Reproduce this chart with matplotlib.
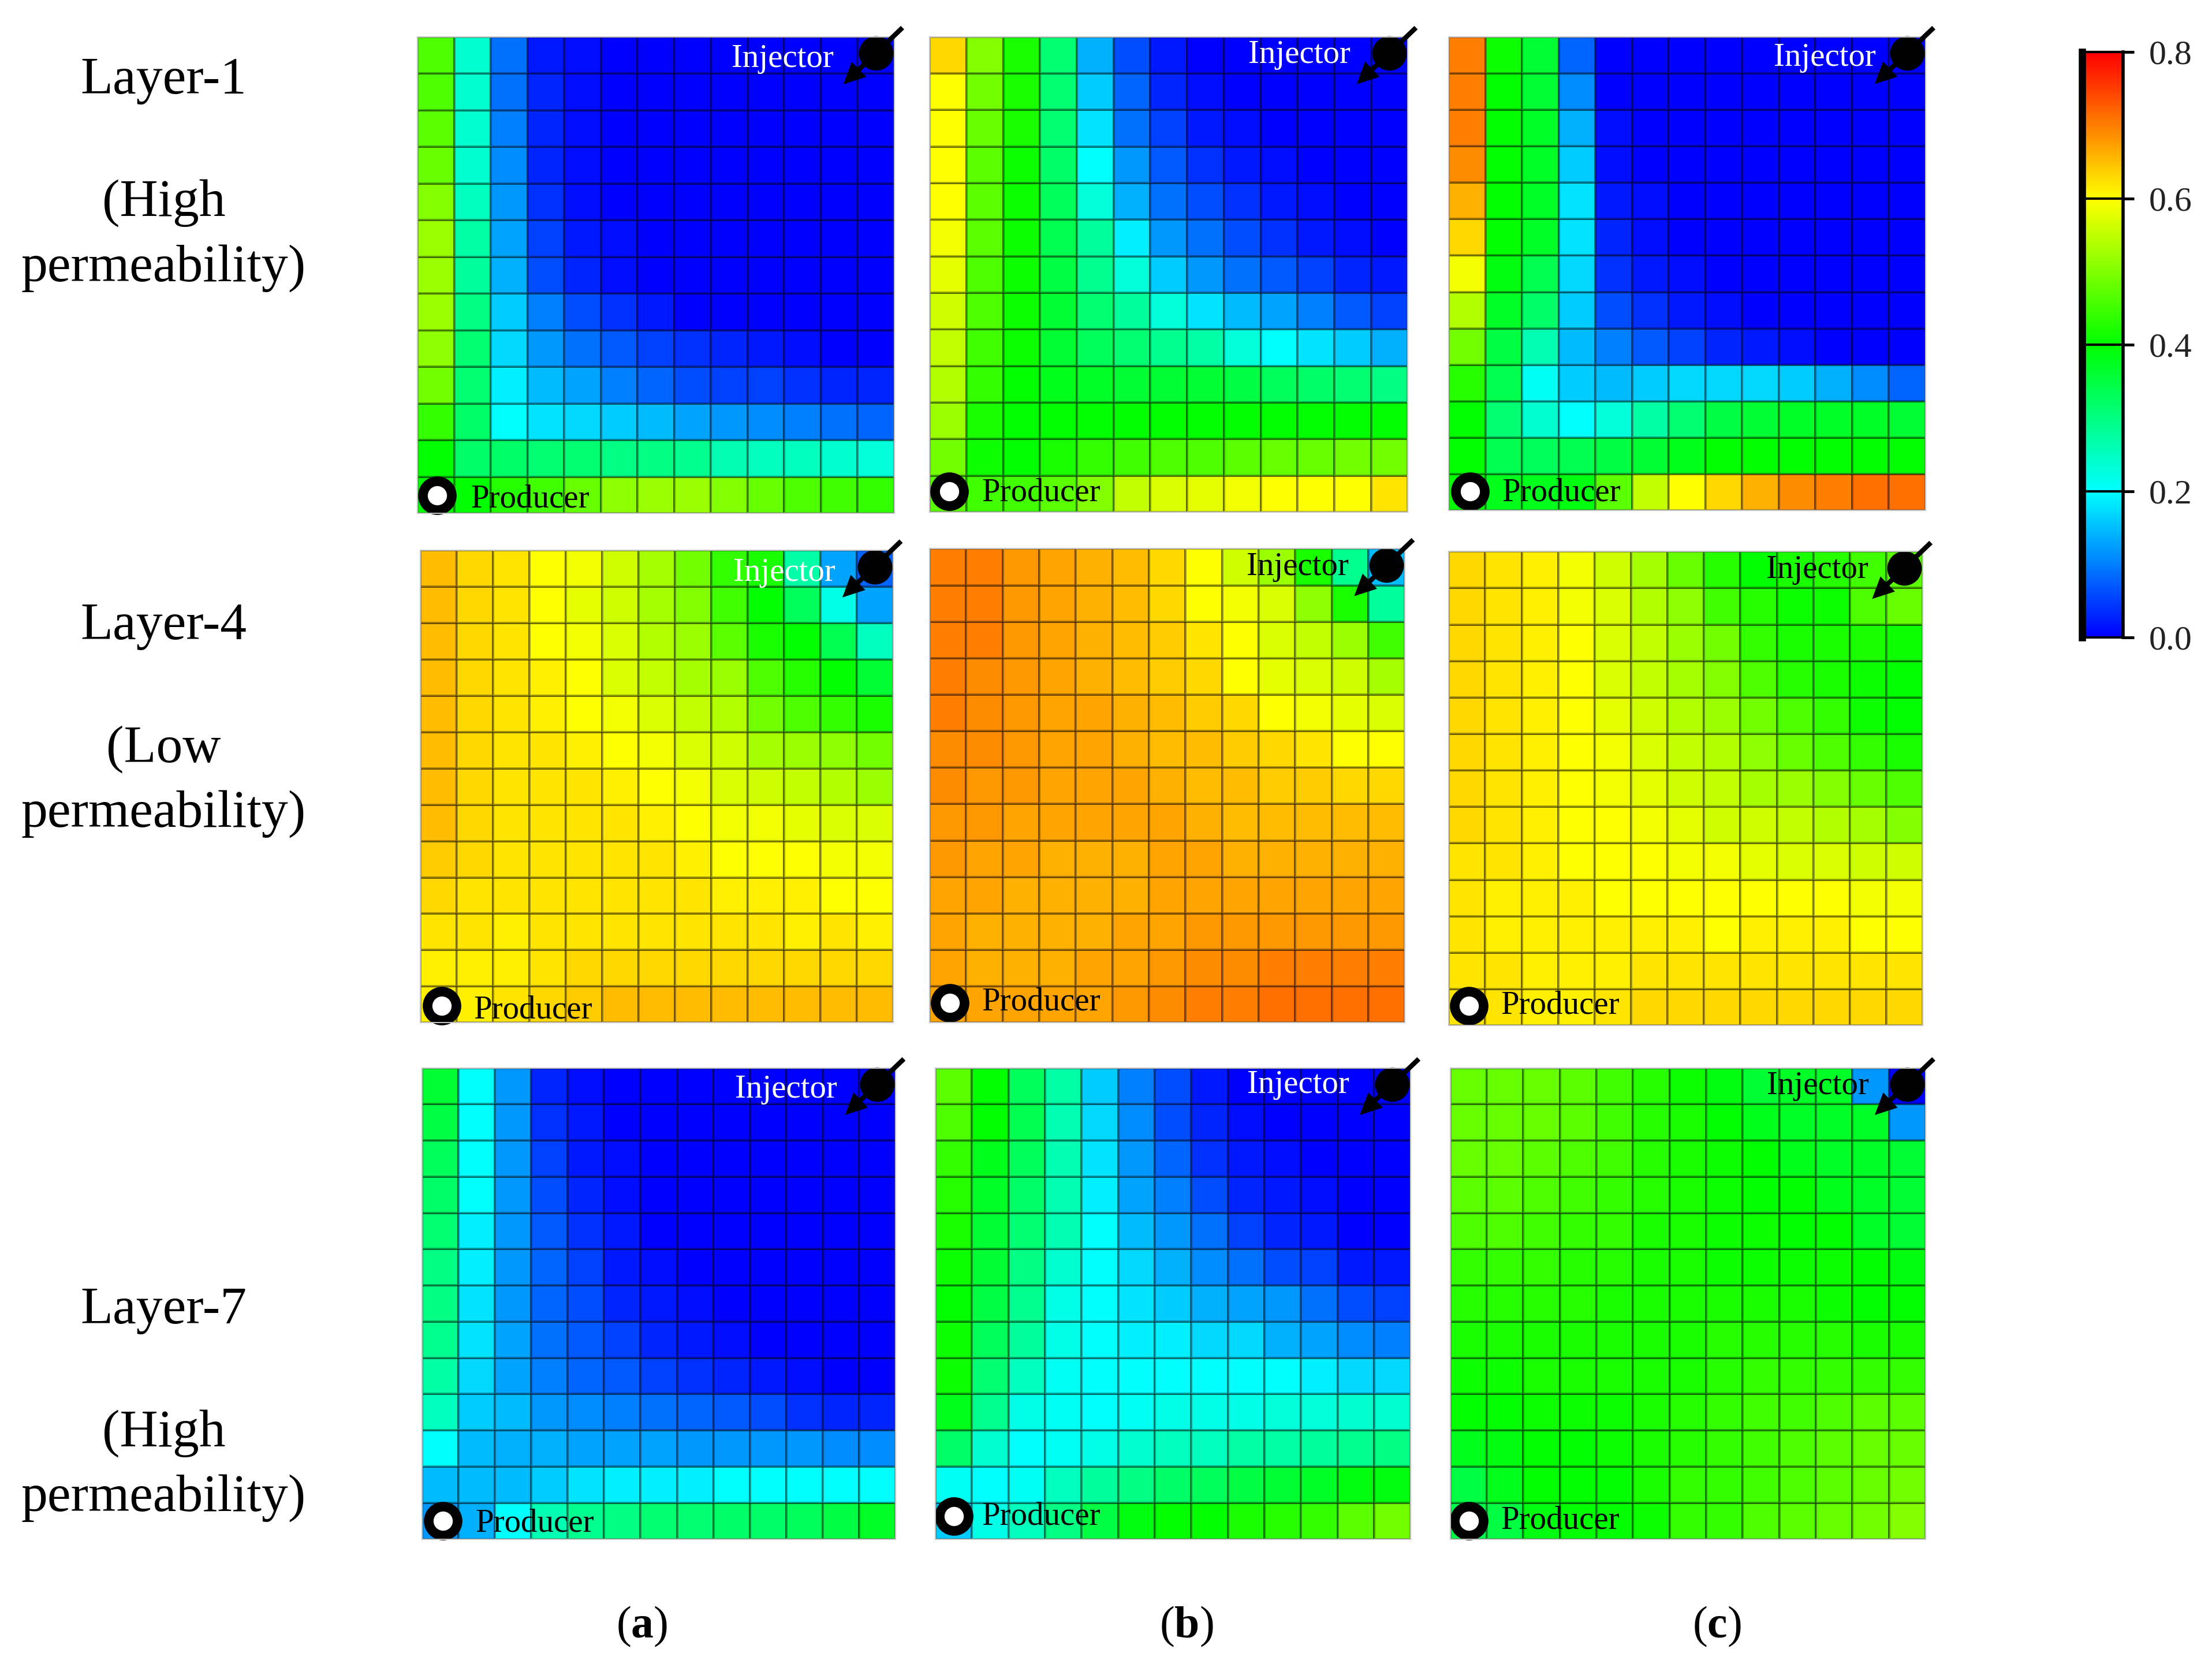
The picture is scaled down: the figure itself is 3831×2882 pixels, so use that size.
import numpy as np
import matplotlib
matplotlib.use('Agg')
import matplotlib.pyplot as plt
from matplotlib.colors import LinearSegmentedColormap, Normalize
from matplotlib.cm import ScalarMappable

plt.rcParams['font.family'] = ['Liberation Serif', 'DejaVu Serif']
plt.rcParams['mathtext.fontset'] = 'custom'
plt.rcParams['mathtext.rm'] = 'Liberation Serif'
plt.rcParams['mathtext.bf'] = 'Liberation Serif:bold'

# saturation in hundredths, top row first
layer1_a = [
    [46, 24, 9, 2, 1, 0, 0, 0, 0, 0, 0, 0, 0],
    [46, 24, 9, 3, 1, 0, 0, 0, 0, 0, 0, 0, 0],
    [47, 24, 10, 3, 1, 0, 0, 0, 0, 0, 0, 0, 0],
    [48, 24, 11, 3, 1, 0, 0, 0, 0, 0, 0, 0, 0],
    [50, 25, 12, 4, 1, 0, 0, 0, 0, 0, 0, 0, 0],
    [52, 27, 13, 5, 2, 1, 0, 0, 0, 0, 0, 0, 0],
    [52, 28, 14, 6, 3, 1, 0, 0, 0, 0, 0, 0, 0],
    [52, 30, 16, 10, 6, 4, 2, 0, 0, 0, 0, 0, 0],
    [51, 31, 17, 12, 9, 7, 5, 4, 3, 2, 1, 0, 0],
    [49, 31, 19, 15, 13, 10, 8, 6, 5, 5, 4, 3, 3],
    [44, 32, 20, 18, 17, 16, 15, 13, 12, 11, 10, 9, 8],
    [40, 32, 32, 31, 31, 30, 30, 29, 26, 25, 25, 24, 23],
    [40, 40, 43, 45, 48, 51, 52, 52, 50, 48, 46, 45, 44],
]
layer1_b = [
    [63, 50, 42, 31, 14, 6, 2, 0, 0, 0, 0, 0, 0],
    [60, 49, 42, 31, 16, 8, 3, 1, 0, 0, 0, 0, 0],
    [60, 48, 42, 31, 18, 9, 5, 2, 1, 0, 0, 0, 0],
    [60, 47, 41, 32, 20, 12, 7, 4, 2, 1, 0, 0, 0],
    [60, 47, 41, 33, 23, 14, 9, 6, 4, 2, 1, 0, 0],
    [59, 47, 41, 34, 28, 19, 12, 9, 6, 4, 2, 1, 0],
    [58, 46, 41, 35, 29, 23, 16, 12, 9, 7, 5, 3, 2],
    [56, 46, 41, 36, 31, 28, 23, 18, 15, 13, 10, 7, 5],
    [55, 45, 41, 36, 33, 31, 29, 27, 23, 20, 18, 16, 14],
    [54, 44, 40, 38, 37, 36, 36, 36, 35, 33, 32, 31, 30],
    [52, 42, 40, 40, 40, 40, 40, 40, 40, 40, 40, 40, 40],
    [49, 41, 40, 42, 44, 45, 46, 46, 47, 48, 48, 49, 49],
    [47, 45, 45, 47, 50, 55, 57, 58, 59, 60, 60, 60, 62],
]
layer1_c = [
    [70, 41, 36, 8, 0, 0, 0, 0, 0, 0, 0, 0, 0],
    [70, 40, 36, 11, 0, 0, 0, 0, 0, 0, 0, 0, 0],
    [70, 40, 37, 14, 1, 0, 0, 0, 0, 0, 0, 0, 0],
    [69, 40, 37, 16, 1, 0, 0, 0, 0, 0, 0, 0, 0],
    [66, 40, 37, 18, 2, 1, 0, 0, 0, 0, 0, 0, 0],
    [63, 40, 37, 18, 3, 1, 0, 0, 0, 0, 0, 0, 0],
    [59, 39, 34, 17, 4, 2, 1, 0, 0, 0, 0, 0, 0],
    [54, 37, 32, 16, 6, 4, 2, 1, 0, 0, 0, 0, 0],
    [49, 35, 26, 15, 10, 7, 5, 3, 2, 1, 0, 0, 0],
    [43, 34, 21, 16, 15, 16, 17, 17, 17, 16, 14, 11, 8],
    [40, 31, 24, 20, 23, 27, 31, 35, 36, 37, 37, 37, 36],
    [40, 34, 33, 34, 35, 36, 38, 40, 40, 40, 40, 40, 40],
    [40, 38, 38, 39, 47, 55, 60, 63, 66, 69, 70, 71, 71],
]
layer4_a = [
    [65, 63, 62, 60, 59, 56, 53, 49, 44, 42, 27, 13, 8],
    [65, 63, 62, 60, 58, 56, 53, 50, 45, 40, 33, 22, 13],
    [65, 63, 62, 60, 59, 57, 54, 52, 47, 42, 40, 34, 25],
    [65, 63, 62, 61, 60, 57, 55, 53, 52, 46, 43, 40, 36],
    [65, 63, 62, 61, 60, 59, 57, 55, 54, 49, 46, 44, 42],
    [65, 63, 62, 62, 61, 60, 59, 57, 56, 53, 52, 51, 49],
    [65, 63, 62, 62, 62, 61, 60, 59, 57, 56, 55, 54, 52],
    [65, 63, 62, 62, 62, 62, 61, 60, 59, 59, 58, 57, 57],
    [64, 63, 62, 62, 62, 62, 62, 61, 60, 60, 60, 59, 59],
    [63, 62, 62, 62, 62, 62, 62, 62, 61, 61, 61, 60, 60],
    [62, 62, 61, 62, 62, 62, 62, 62, 62, 62, 61, 62, 61],
    [61, 61, 61, 62, 63, 63, 63, 63, 63, 63, 63, 63, 63],
    [61, 61, 62, 63, 64, 65, 65, 65, 65, 65, 65, 65, 65],
]
layer4_b = [
    [70, 70, 68, 67, 66, 65, 63, 60, 56, 52, 42, 29, 15],
    [70, 70, 68, 67, 66, 65, 63, 60, 59, 57, 51, 42, 28],
    [70, 70, 68, 67, 66, 65, 64, 62, 60, 57, 55, 52, 45],
    [70, 69, 68, 67, 66, 65, 64, 63, 60, 58, 57, 56, 53],
    [70, 69, 68, 67, 67, 66, 65, 64, 63, 60, 59, 58, 57],
    [69, 69, 68, 67, 67, 66, 65, 65, 64, 63, 62, 60, 60],
    [69, 68, 68, 67, 67, 67, 66, 65, 65, 64, 64, 63, 63],
    [68, 68, 67, 67, 67, 67, 67, 66, 65, 65, 65, 65, 65],
    [68, 67, 67, 66, 66, 66, 67, 67, 66, 66, 66, 66, 66],
    [67, 67, 66, 66, 66, 66, 67, 67, 67, 67, 67, 67, 67],
    [67, 66, 66, 66, 66, 67, 67, 68, 68, 68, 68, 68, 68],
    [67, 66, 66, 66, 67, 67, 68, 69, 69, 70, 70, 70, 70],
    [67, 67, 67, 67, 67, 68, 69, 70, 70, 71, 71, 71, 71],
]
layer4_c = [
    [63, 62, 61, 59, 56, 53, 48, 43, 40, 42, 43, 45, 47],
    [63, 62, 61, 59, 57, 54, 51, 45, 43, 41, 41, 46, 48],
    [63, 62, 61, 60, 57, 55, 52, 49, 44, 42, 42, 42, 41],
    [63, 62, 61, 60, 57, 55, 53, 50, 46, 43, 42, 41, 40],
    [63, 62, 61, 60, 58, 56, 54, 52, 49, 46, 44, 41, 40],
    [63, 62, 61, 60, 59, 57, 55, 54, 51, 48, 46, 44, 42],
    [63, 62, 61, 60, 59, 58, 56, 55, 53, 52, 50, 48, 46],
    [63, 62, 61, 60, 60, 59, 58, 56, 56, 55, 54, 53, 50],
    [62, 62, 61, 60, 60, 60, 59, 59, 58, 57, 57, 56, 56],
    [62, 61, 61, 61, 60, 60, 60, 60, 60, 60, 60, 59, 59],
    [62, 61, 61, 61, 61, 61, 61, 60, 61, 61, 61, 60, 60],
    [62, 62, 61, 61, 61, 62, 62, 62, 62, 62, 62, 62, 62],
    [62, 62, 61, 61, 62, 63, 63, 63, 63, 63, 63, 63, 63],
]
layer7_a = [
    [36, 20, 12, 3, 1, 0, 0, 0, 0, 0, 0, 0, 0],
    [35, 20, 12, 4, 2, 0, 0, 0, 0, 0, 0, 0, 0],
    [33, 20, 12, 5, 2, 1, 0, 0, 0, 0, 0, 0, 0],
    [32, 20, 12, 6, 3, 1, 0, 0, 0, 0, 0, 0, 0],
    [31, 19, 12, 7, 4, 2, 0, 0, 0, 0, 0, 0, 0],
    [30, 19, 12, 8, 5, 2, 1, 0, 0, 0, 0, 0, 0],
    [30, 18, 12, 8, 6, 3, 2, 1, 0, 0, 0, 0, 0],
    [29, 18, 13, 9, 7, 5, 3, 2, 1, 0, 0, 0, 0],
    [27, 17, 13, 10, 8, 7, 5, 4, 3, 2, 1, 0, 0],
    [25, 16, 15, 12, 11, 10, 9, 8, 7, 6, 4, 3, 3],
    [20, 15, 14, 14, 13, 13, 13, 12, 12, 12, 12, 11, 11],
    [15, 15, 15, 16, 18, 19, 19, 19, 20, 20, 20, 20, 20],
    [12, 14, 20, 26, 29, 30, 31, 31, 32, 32, 33, 35, 37],
]
layer7_b = [
    [47, 40, 33, 27, 16, 10, 6, 2, 0, 0, 0, 0, 0],
    [46, 40, 34, 26, 17, 11, 6, 3, 1, 0, 0, 0, 0],
    [44, 38, 33, 26, 18, 12, 8, 4, 2, 1, 0, 0, 0],
    [43, 37, 32, 26, 19, 13, 10, 6, 3, 2, 1, 0, 0],
    [42, 36, 31, 26, 20, 15, 12, 9, 5, 3, 2, 0, 0],
    [41, 36, 30, 24, 20, 17, 14, 11, 9, 6, 5, 2, 2],
    [40, 35, 29, 22, 20, 18, 16, 14, 13, 12, 9, 6, 5],
    [41, 33, 28, 22, 20, 19, 19, 17, 17, 14, 13, 11, 10],
    [41, 31, 25, 21, 20, 20, 20, 20, 20, 20, 19, 17, 17],
    [38, 29, 22, 21, 20, 21, 22, 22, 22, 23, 23, 24, 24],
    [32, 24, 20, 21, 22, 24, 25, 25, 27, 27, 28, 29, 30],
    [21, 20, 21, 25, 28, 30, 32, 33, 35, 36, 37, 39, 39],
    [16, 22, 25, 30, 35, 39, 40, 40, 42, 43, 44, 47, 49],
]
layer7_c = [
    [48, 48, 48, 47, 45, 43, 41, 39, 36, 37, 37, 12, 0],
    [48, 48, 48, 47, 45, 43, 42, 40, 38, 37, 37, 37, 12],
    [48, 48, 47, 46, 45, 43, 42, 41, 40, 38, 37, 37, 36],
    [47, 47, 46, 45, 44, 43, 42, 41, 40, 40, 38, 37, 36],
    [46, 46, 45, 44, 44, 42, 42, 41, 41, 40, 40, 37, 36],
    [44, 44, 44, 43, 43, 42, 42, 41, 41, 41, 41, 40, 39],
    [43, 43, 43, 43, 42, 42, 42, 42, 42, 42, 41, 40, 40],
    [42, 42, 42, 42, 42, 42, 42, 43, 43, 43, 43, 42, 42],
    [41, 41, 42, 42, 42, 42, 42, 43, 44, 44, 44, 44, 44],
    [40, 40, 41, 41, 41, 42, 43, 44, 45, 45, 46, 47, 47],
    [38, 39, 40, 40, 41, 42, 43, 44, 45, 46, 47, 48, 48],
    [35, 38, 40, 40, 40, 42, 44, 44, 45, 46, 47, 48, 49],
    [34, 35, 39, 40, 40, 41, 44, 44, 46, 47, 48, 49, 50],
]

row_labels = [['Layer-1', '(High', 'permeability)'],
              ['Layer-4', '(Low', 'permeability)'],
              ['Layer-7', '(High', 'permeability)']]
col_labels = ['a', 'b', 'c']
cbar_ticks = [0.0, 0.2, 0.4, 0.6, 0.8]

W, H = 3831, 2882
S = W / 1568  # panel boxes below were measured on the 1568 wide view

fig = plt.figure(figsize=(W / 100, H / 100), dpi=100, facecolor='white')
cmap = LinearSegmentedColormap.from_list(
    'sat', ['#0000ff', '#00ffff', '#00ff00', '#ffff00', '#ff0000'], N=256)
norm = Normalize(0, 0.8)


def add_ax(x0, y0, x1, y1):
    return fig.add_axes([x0 * S / W, 1 - y1 * S / H, (x1 - x0) * S / W, (y1 - y0) * S / H])


# x0, y0, x1, y1, injector text x/y, injector colour, producer text x/y, ring x/y
panels = [
    (layer1_a, 296, 26, 634, 364, .766, .960, 'white', .112, .036, .041, .038),
    (layer1_b, 659, 26, 998, 363, .773, .968, 'white', .109, .047, .041, .044),
    (layer1_c, 1027, 26, 1365, 362, .789, .962, 'white', .112, .044, .044, .041),
    (layer4_a, 298, 390, 633, 725, .770, .958, 'white', .113, .033, .045, .036),
    (layer4_b, 659, 389, 996, 725, .774, .967, 'black', .110, .050, .042, .042),
    (layer4_c, 1027, 391, 1363, 727, .777, .967, 'black', .110, .048, .042, .042),
    (layer7_a, 299, 757, 635, 1091, .768, .960, 'white', .113, .039, .045, .039),
    (layer7_b, 663, 757, 1000, 1091, .763, .970, 'white', .098, .054, .039, .048),
    (layer7_c, 1028, 757, 1365, 1091, .773, .967, 'black', .107, .045, .039, .039),
]

for p in panels:
    vals, x0, y0, x1, y1, ix, iy, ic, px, py, rx, ry = p
    ax = add_ax(x0, y0, x1, y1)
    z = np.array(vals)[::-1] / 100
    ax.pcolormesh(np.arange(14), np.arange(14), z, cmap=cmap, norm=norm,
                  edgecolors=(0, 0, 0, 0.35), linewidth=1.5)
    ax.set_xlim(0, 13)
    ax.set_ylim(0, 13)
    ax.set_xticks([])
    ax.set_yticks([])
    for s in ax.spines.values():
        s.set_color('#c4c4c4')
        s.set_linewidth(1.5)
    tr = ax.transAxes
    ax.text(ix, iy - .006, 'Injector', color=ic, transform=tr, fontsize=41, ha='center', va='center')
    ax.text(px, py - .006, 'Producer', color='black', transform=tr, fontsize=41, ha='left', va='center')
    # injector symbol: stem, arrow head and well circle
    ax.annotate('', xy=(.893, .900), xytext=(1.017, 1.019), xycoords=tr, textcoords=tr,
                annotation_clip=False,
                arrowprops=dict(arrowstyle='simple,head_length=0.9,head_width=0.87,tail_width=0.2',
                                lw=0, color='black', shrinkA=0, shrinkB=0, mutation_scale=30))
    ax.plot([.961], [.965], 'o', ms=43, color='black', mew=0, transform=tr, clip_on=False)
    ax.plot([rx], [ry], 'o', ms=36, mfc='white', mec='black', mew=12, transform=tr, clip_on=False)

# colour bar
cax = add_ax(1476, 37, 1505, 452)
cb = fig.colorbar(ScalarMappable(norm=norm, cmap=cmap), cax=cax, ticks=cbar_ticks)
cb.ax.set_yticklabels(['%.1f' % t for t in cbar_ticks], fontsize=43, color='#222222')
cb.ax.tick_params(length=14, width=3.5, pad=18, color='black')
cb.outline.set_linewidth(0)
for t in cbar_ticks[1:-1]:
    cb.ax.axhline(t, color='black', lw=3)
cb.ax.spines['left'].set_visible(True)
cb.ax.spines['left'].set_linewidth(9)
cb.ax.spines['left'].set_color('black')
cb.ax.spines['right'].set_visible(True)
cb.ax.spines['right'].set_linewidth(4)
cb.ax.spines['right'].set_color('black')
cb.ax.spines['top'].set_visible(True)
cb.ax.spines['top'].set_linewidth(3)
cb.ax.spines['bottom'].set_visible(True)
cb.ax.spines['bottom'].set_linewidth(3)

# row titles on the left
row_y = [(57, 144, 190), (444, 531, 577), (929, 1016, 1062)]
for labels, ys in zip(row_labels, row_y):
    for txt, y in zip(labels, ys):
        fig.text(116 * S / W, 1 - y * S / H, txt, fontsize=66, ha='center', va='center')

for lab, x in zip(col_labels, [455, 841, 1217]):
    fig.text(x * S / W, 1 - 1153 * S / H, r'($\mathbf{%s}$)' % lab, fontsize=56,
             ha='center', va='center')

fig.savefig('out.png', dpi=100)
